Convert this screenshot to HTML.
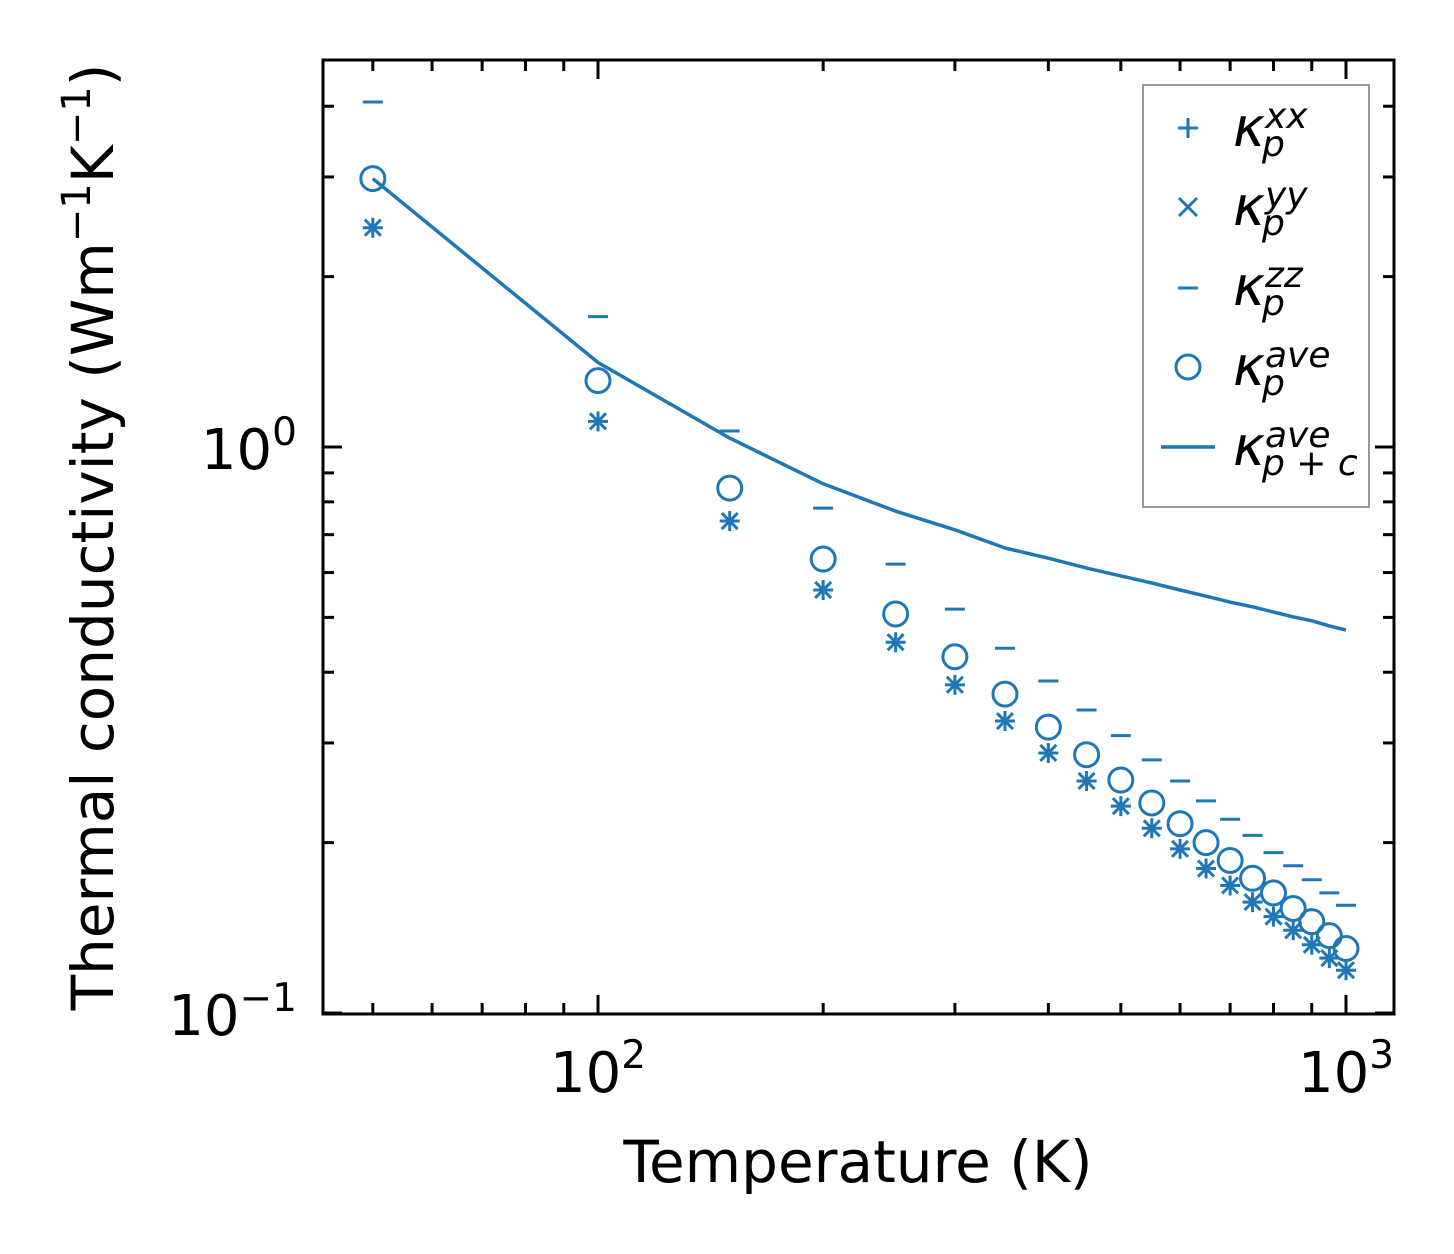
<!DOCTYPE html>
<html><head><meta charset="utf-8"><style>
html,body{margin:0;padding:0;background:#fff;}
svg{display:block;font-family:"DejaVu Sans","Liberation Sans",sans-serif;}
</style></head><body>
<svg id="chart" width="1454" height="1254" viewBox="0 0 1454 1254">
<rect x="0" y="0" width="1454" height="1254" fill="#fff"/>
<g id="marks"></g>
<rect x="323" y="60" width="1071" height="954" fill="none" stroke="#000" stroke-width="3"/>
<g id="ticks"></g>
<text x="858" y="1182" font-size="58" text-anchor="middle">Temperature (K)</text>
<text transform="translate(113,537) rotate(-90)" font-size="58" text-anchor="middle">Thermal conductivity (Wm<tspan font-size="40" dy="-23">−1</tspan><tspan dy="23">K</tspan><tspan font-size="40" dy="-23">−1</tspan><tspan dy="23">)</tspan></text>
<g font-style="italic" fill="#000">
<rect x="1143" y="85" width="226" height="422" fill="#fff" stroke="#999" stroke-width="2"/>
<g>
<path d="M1178 128h20M1188 118v20" stroke="#1f77b4" stroke-width="3"/>
<text x="1233" y="146" font-size="54">κ</text><text x="1265" y="128" font-size="36">xx</text><text x="1262" y="156" font-size="36">p</text>
</g>
<g>
<path d="M1179 198l18 18M1179 216l18 -18" stroke="#1f77b4" stroke-width="3"/>
<text x="1233" y="225" font-size="54">κ</text><text x="1265" y="207" font-size="36">yy</text><text x="1262" y="235" font-size="36">p</text>
</g>
<g>
<path d="M1178 288h20" stroke="#1f77b4" stroke-width="3"/>
<text x="1233" y="305" font-size="54">κ</text><text x="1265" y="287" font-size="36">zz</text><text x="1262" y="315" font-size="36">p</text>
</g>
<g>
<circle cx="1188" cy="367" r="12" fill="none" stroke="#1f77b4" stroke-width="3"/>
<text x="1233" y="385" font-size="54">κ</text><text x="1265" y="367" font-size="36">ave</text><text x="1262" y="395" font-size="36">p</text>
</g>
<g>
<path d="M1161 447h54" stroke="#1f77b4" stroke-width="3.5"/>
<text x="1233" y="465" font-size="54">κ</text><text x="1265" y="447" font-size="36">ave</text><text x="1262" y="475" font-size="36">p + c</text>
</g>
</g>
</svg>
<script>
const temps = [50,100,150,200,250,300,350,400,450,500,550,600,650,700,750,800,850,900,950,1000];
const kxx = [2.44,1.11,0.740,0.559,0.452,0.380,0.328,0.288,0.257,0.232,0.212,0.195,0.180,0.168,0.157,0.148,0.140,0.132,0.125,0.119];
const kyy = [2.44,1.11,0.740,0.559,0.452,0.380,0.328,0.288,0.257,0.232,0.212,0.195,0.180,0.168,0.157,0.148,0.140,0.132,0.125,0.119];
const kzz = [4.07,1.70,1.067,0.780,0.621,0.517,0.441,0.386,0.343,0.309,0.280,0.257,0.237,0.220,0.206,0.192,0.182,0.172,0.163,0.155];
const kave = [2.98,1.31,0.846,0.634,0.507,0.426,0.366,0.320,0.286,0.258,0.235,0.216,0.200,0.186,0.173,0.163,0.153,0.145,0.137,0.130];
const kpc = [2.98,1.41,1.037,0.861,0.770,0.714,0.663,0.636,0.611,0.592,0.575,0.559,0.545,0.532,0.522,0.511,0.501,0.493,0.483,0.475];
const xMajor = [100,1000];
const xMajorLabels = ["2","3"];
const yMajor = [1,0.1];
const yMajorLabels = ["0","−1"];

const NS="http://www.w3.org/2000/svg";
const L=323,R=1394,T=60,B=1014;
function xs(v){return 598+(Math.log10(v)-2)*748;}
function ys(v){return 447-Math.log10(v)*566;}
const C="#1f77b4";
function mk(tag,attrs,parent){const e=document.createElementNS(NS,tag);for(const k in attrs)e.setAttribute(k,attrs[k]);parent.appendChild(e);return e;}
const marks=document.getElementById('marks');
const ticks=document.getElementById('ticks');

let d="";
temps.forEach((t,i)=>{d+=(i?"L":"M")+xs(t).toFixed(1)+" "+ys(kpc[i]).toFixed(1);});
const line=mk('path',{d:d,fill:"none",stroke:C,"stroke-width":3.5,"stroke-linejoin":"round"},marks);



temps.forEach((t,i)=>{
  const x=xs(t);
  let y=ys(kxx[i]);
  const p=mk('path',{d:`M${x-10} ${y}h20M${x} ${y-10}v20`,stroke:C,"stroke-width":3},marks);
  
  
  y=ys(kyy[i]);
  const q=mk('path',{d:`M${x-8} ${y-8}l16 16M${x-8} ${y+8}l16 -16`,stroke:C,"stroke-width":3},marks);
  
  
  y=ys(kzz[i]);
  const z=mk('path',{d:`M${x-10} ${y}h20`,stroke:C,"stroke-width":3},marks);
  
  
  const c=mk('circle',{cx:x,cy:ys(kave[i]),r:12,fill:"none",stroke:C,"stroke-width":3},marks);
  
  
});

function tick(x1,y1,x2,y2){const e=mk('line',{x1:x1,y1:y1,x2:x2,y2:y2,stroke:"#000","stroke-width":3},ticks);

}
const xMinor=[50,60,70,80,90,200,300,400,500,600,700,800,900];
xMinor.forEach(v=>{const x=xs(v);tick(x,B,x,B-11);tick(x,T,x,T+11);});
xMajor.forEach((v,i)=>{const x=xs(v);tick(x,B,x,B-19);tick(x,T,x,T+19);
  const t=mk('text',{x:x,y:1092,"font-size":56,"text-anchor":"middle"},ticks);
  t.innerHTML=`10<tspan font-size="39" dy="-24">${xMajorLabels[i]}</tspan>`;
  
  
});
const yMinor=[0.2,0.3,0.4,0.5,0.6,0.7,0.8,0.9,2,3,4];
yMinor.forEach(v=>{const y=ys(v);tick(L,y,L+11,y);tick(R,y,R-11,y);});
yMajor.forEach((v,i)=>{const y=ys(v);tick(L,y,L+19,y);tick(R,y,R-19,y);
  const t=mk('text',{x:297,y:y+22,"font-size":56,"text-anchor":"end"},ticks);
  t.innerHTML=`10<tspan font-size="39" dy="-24">${yMajorLabels[i]}</tspan>`;
  
  
});
</script>
</body></html>
